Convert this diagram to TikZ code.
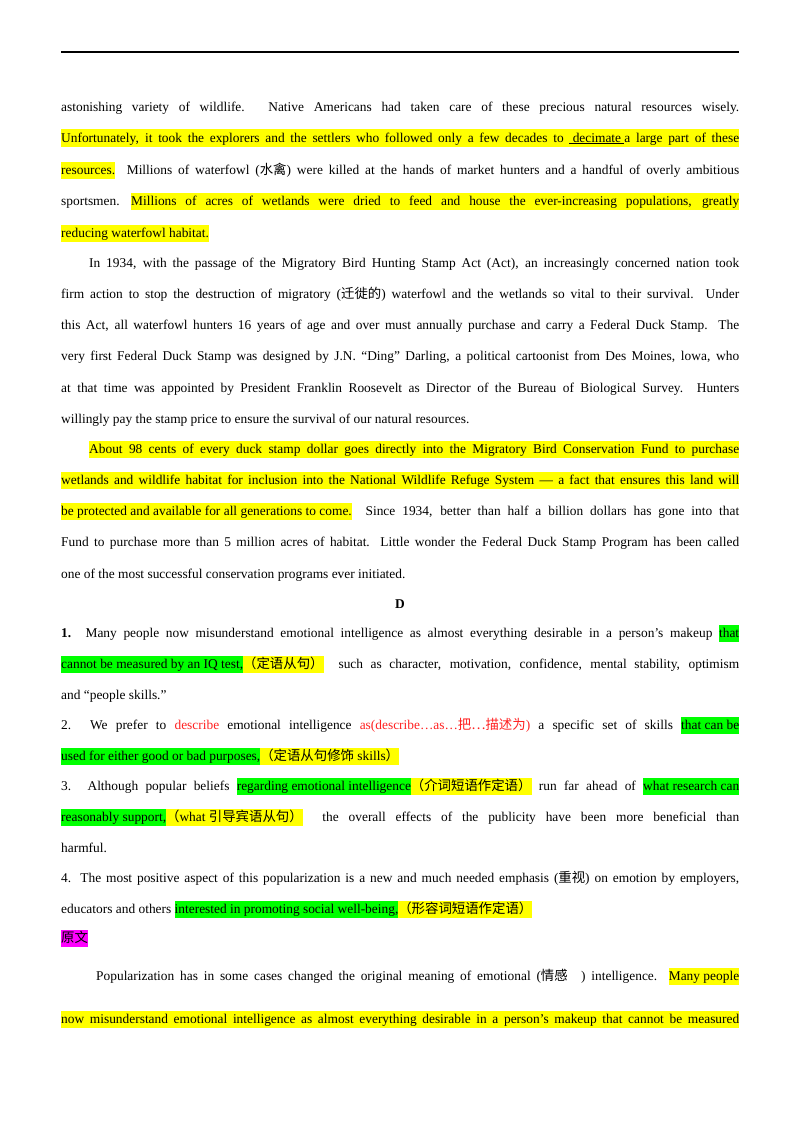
\documentclass[tikz,border=0pt]{standalone}
\usepackage{fontspec}
\setmainfont{Liberation Serif}
\newfontfamily\cjk{Noto Sans CJK SC}
\definecolor{hy}{HTML}{FFFF00}
\definecolor{hg}{HTML}{00FF00}
\definecolor{hm}{HTML}{FF00FF}
\definecolor{rd}{HTML}{FF2020}
\newcommand\hs{\rule[-5pt]{0pt}{17.5pt}}
\newcommand\hl[2]{{\fboxsep0pt\colorbox{#1}{\hs #2}}}
\newcommand\hlw[3]{{\fboxsep0pt\colorbox{#1}{\hbox to #2{\hs #3}}}}
\newcommand\tl[3][0pt]{\node[txt] (#2) at (61,#2) {\hbox to 678pt{\hskip #1 #3}};}
\tikzset{txt/.style={anchor=base west,inner sep=0pt,font=\fontsize{13.4pt}{16pt}\selectfont}}
\begin{document}
\begin{tikzpicture}[x=1pt,y=-1pt]
\useasboundingbox (0,0) rectangle (800,1132);
\draw[line width=1.2pt] (61,52) -- (739,52);
\tl{111}{astonishing variety of wildlife. Native Americans had taken care of these precious natural resources wisely.}
\tl{142}{\hlw{hy}{678pt}{Unfortunately, it took the explorers and the settlers who followed only a few decades to \underline{\ decimate\ }a large part of these}}
\tl{174}{\hl{hy}{resources.}\ \ Millions of waterfowl ({\cjk 水禽}) were killed at the hands of market hunters and a handful of overly ambitious}
\tl{205}{sportsmen.\hfill\hlw{hy}{608pt}{Millions of acres of wetlands were dried to feed and house the ever-increasing populations, greatly}}
\tl{237}{\hl{hy}{reducing waterfowl habitat.}\hfill}
\tl[28pt]{267}{In 1934, with the passage of the Migratory Bird Hunting Stamp Act (Act), an increasingly concerned nation took}
\tl{298}{firm action to stop the destruction of migratory ({\cjk 迁徙的}) waterfowl and the wetlands so vital to their survival. Under}
\tl{329}{this Act, all waterfowl hunters 16 years of age and over must annually purchase and carry a Federal Duck Stamp. The}
\tl{360}{very first Federal Duck Stamp was designed by J.N. “Ding” Darling, a political cartoonist from Des Moines, lowa, who}
\tl{392}{at that time was appointed by President Franklin Roosevelt as Director of the Bureau of Biological Survey. Hunters}
\tl{423}{willingly pay the stamp price to ensure the survival of our natural resources.\hfill}
\tl[28pt]{453}{\hlw{hy}{650pt}{About 98 cents of every duck stamp dollar goes directly into the Migratory Bird Conservation Fund to purchase}}
\tl{484}{\hlw{hy}{678pt}{wetlands and wildlife habitat for inclusion into the National Wildlife Refuge System — a fact that ensures this land will}}
\tl{515}{\hl{hy}{be protected and available for all generations to come.}\ \ Since 1934, better than half a billion dollars has gone into that}
\tl{546}{Fund to purchase more than 5 million acres of habitat. Little wonder the Federal Duck Stamp Program has been called}
\tl{578}{one of the most successful conservation programs ever initiated.\hfill}
\node[txt,anchor=base] (D) at (400,608) {\textbf{D}};
\tl{637}{\textbf{1.} Many people now misunderstand emotional intelligence as almost everything desirable in a person's makeup \hl{hg}{that}}
\tl{668}{\hl{hg}{cannot be measured by an IQ test,}\hl{hy}{{\cjk （定语从句）}}\ \ such as character, motivation, confidence, mental stability, optimism}
\tl{699}{and “people skills.”\hfill}
\tl{729}{2. We prefer to \textcolor{rd}{describe} emotional intelligence \textcolor{rd}{as(describe…as…{\cjk 把…描述为})} a specific set of skills \hl{hg}{that can be}}
\tl{760}{\hl{hg}{used for either good or bad purposes,}\hl{hy}{{\cjk （定语从句修饰} skills{\cjk ）}}\hfill}
\tl{790}{3. Although popular beliefs \hl{hg}{regarding emotional intelligence}\hl{hy}{{\cjk （介词短语作定语）}} run far ahead of \hl{hg}{what research can}}
\tl{821}{\hl{hg}{reasonably support,}\hl{hy}{{\cjk （}what {\cjk 引导宾语从句）}}\ \ the overall effects of the publicity have been more beneficial than}
\tl{852}{harmful.\hfill}
\tl{882}{4. The most positive aspect of this popularization is a new and much needed emphasis ({\cjk 重视}) on emotion by employers,}
\tl{913}{educators and others \hl{hg}{interested in promoting social well-being,}\hl{hy}{{\cjk （形容词短语作定语）}}\hfill}
\tl{942}{\hl{hm}{{\cjk 原文}}\hfill}
\tl[35pt]{980}{Popularization has in some cases changed the original meaning of emotional ({\cjk 情感}\quad) intelligence.\ \ \hl{hy}{Many people}}
\tl{1023}{\hlw{hy}{678pt}{now misunderstand emotional intelligence as almost everything desirable in a person's makeup that cannot be measured}}
\end{tikzpicture}
\end{document}
